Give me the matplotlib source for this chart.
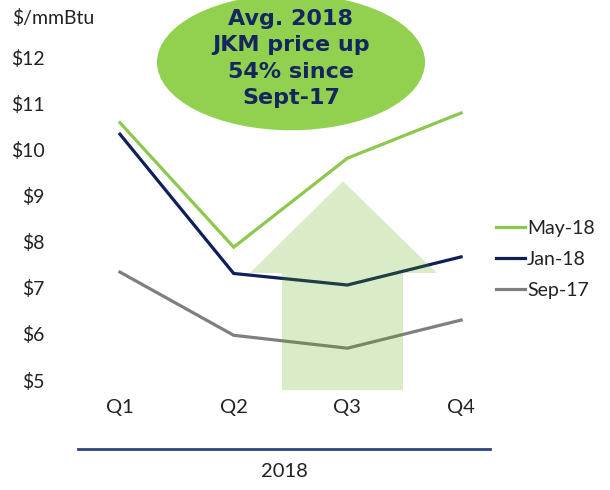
import matplotlib
matplotlib.use("Agg")
import matplotlib.pyplot as plt
from matplotlib.patches import Ellipse, Polygon

# ---- data ----
quarters = ["Q1", "Q2", "Q3", "Q4"]
may18 = [10.58, 7.88, 9.81, 10.79]
jan18 = [10.33, 7.31, 7.06, 7.67]
sep17 = [7.34, 5.97, 5.69, 6.30]
series_names = ["May-18", "Jan-18", "Sep-17"]
yticks = [5, 6, 7, 8, 9, 10, 11, 12]
ytick_labels = ["$" + str(v) for v in yticks]
year_label = "2018"
unit_label = "$/mmBtu"
callout = "Avg. 2018\nJKM price up\n54% since\nSept-17"

plt.rcParams['font.family'] = ['Lato', 'DejaVu Sans']

W, H = 610, 490
fig = plt.figure(figsize=(W / 100, H / 100), dpi=100)
ax = fig.add_axes([78 / W, 1 - 449 / H, (490 - 78) / W, 449 / H])

c_may = "#8cc84b"
c_jan = "#0f1f5a"
c_sep = "#7f7f7f"
x = list(range(len(quarters)))
lw = 2.3
ax.plot(x, may18, color=c_may, lw=lw, label=series_names[0], solid_joinstyle='miter', zorder=3)
ax.plot(x, jan18, color=c_jan, lw=lw, label=series_names[1], solid_joinstyle='miter', zorder=3)
ax.plot(x, sep17, color=c_sep, lw=lw, label=series_names[2], solid_joinstyle='miter', zorder=3)

ax.set_xlim(-0.369, 3.254)
ax.set_ylim(3.504, 13.24)

# translucent up arrow (annotation decoration)
arrow = Polygon([(1.425, 4.78), (2.489, 4.78), (2.489, 7.32), (2.788, 7.32),
                 (1.961, 9.31), (1.143, 7.32), (1.425, 7.32)],
                closed=True, facecolor="#5aa800", alpha=0.22, edgecolor='none', zorder=4)
ax.add_patch(arrow)

# callout ellipse
ell = Ellipse((1.504, 11.89), 2.357, 2.948, facecolor="#92d050", edgecolor='none',
              zorder=5, clip_on=False)
ax.add_patch(ell)
ax.text(1.504, 11.89 + 0.08, callout, ha='center', va='center', fontsize=16,
        fontweight='bold', color="#13275e", linespacing=1.4, zorder=6, clip_on=False,
        family=['DejaVu Sans'])

for s in ["top", "right", "left"]:
    ax.spines[s].set_visible(False)
ax.spines["bottom"].set_color("#2e4480")
ax.spines["bottom"].set_linewidth(2.0)

ax.set_xticks(x)
ax.set_xticklabels(quarters, fontsize=14.5, color="#222222")
ax.tick_params(axis='x', length=0, pad=-36)
ax.set_yticks(yticks)
ax.set_yticklabels(ytick_labels, fontsize=14, color="#222222")
ax.tick_params(axis='y', length=0, pad=24)

ax.text(0.5, -0.051, year_label, transform=ax.transAxes, ha='center', va='center',
        fontsize=14.5, color="#222222")
fig.text(12 / W, 1 - 18 / H, unit_label, ha='left', va='center', fontsize=14, color="#222222")

leg = fig.legend(loc='center left', bbox_to_anchor=(496 / W, 1 - 259 / H), frameon=False,
                 fontsize=14, handlelength=1.5, handletextpad=0.1, labelspacing=0.72,
                 borderpad=0, borderaxespad=0)
for t in leg.get_texts():
    t.set_color("#222222")

fig.savefig("out.png", dpi=100)
